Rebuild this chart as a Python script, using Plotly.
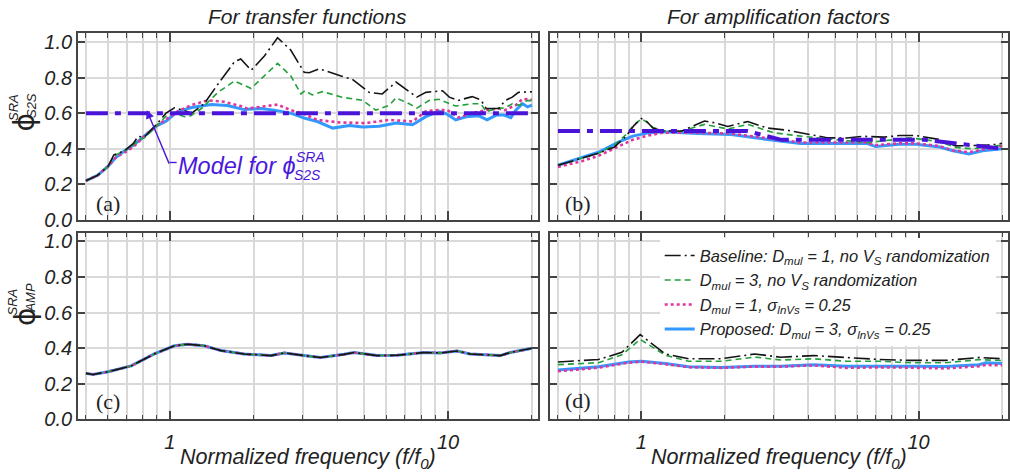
import math
import plotly.graph_objects as go

W, H = 1010, 475

# ---------------- data ----------------
# Panel (a): transfer functions, phi_S2S
fa_base = [0.5, 0.55, 0.6, 0.63, 0.69, 0.74, 0.77, 0.81, 0.9, 0.97, 1.04, 1.1, 1.2, 1.33, 1.49, 1.71, 1.8, 1.96, 2.18, 2.44, 2.72, 3.04, 3.17, 3.45, 4.15, 4.53, 5.2, 5.8, 6.5, 7.05, 7.72, 8.32, 9.55, 10.1, 10.9, 12.2, 13.1, 13.7, 15.2, 16.0, 17.0, 17.9, 20.0]
ya_base = [0.22, 0.25, 0.30, 0.365, 0.39, 0.43, 0.47, 0.465, 0.54, 0.60, 0.63, 0.62, 0.60, 0.653, 0.763, 0.89, 0.905, 0.841, 0.918, 1.024, 0.955, 0.83, 0.827, 0.849, 0.808, 0.79, 0.717, 0.708, 0.775, 0.735, 0.69, 0.717, 0.726, 0.69, 0.672, 0.693, 0.675, 0.626, 0.626, 0.67, 0.69, 0.717, 0.72]

fa_d3 = [0.5, 0.55, 0.6, 0.63, 0.69, 0.74, 0.77, 0.81, 0.9, 0.98, 1.04, 1.13, 1.19, 1.30, 1.49, 1.71, 1.96, 2.18, 2.44, 2.72, 2.96, 3.06, 3.25, 3.54, 4.15, 4.93, 5.5, 6.14, 6.5, 7.25, 7.72, 8.56, 9.27, 10.65, 12.2, 13.1, 13.7, 14.9, 16.0, 17.0, 18.0, 19.3, 20.0]
ya_d3 = [0.22, 0.25, 0.30, 0.36, 0.39, 0.42, 0.45, 0.46, 0.53, 0.59, 0.60, 0.58, 0.585, 0.626, 0.717, 0.781, 0.739, 0.808, 0.88, 0.81, 0.708, 0.726, 0.703, 0.721, 0.69, 0.672, 0.617, 0.644, 0.686, 0.653, 0.628, 0.672, 0.678, 0.64, 0.653, 0.653, 0.608, 0.626, 0.63, 0.653, 0.645, 0.672, 0.67]

fa_sig = [0.5, 0.55, 0.6, 0.64, 0.69, 0.74, 0.81, 0.9, 0.98, 1.07, 1.19, 1.37, 1.57, 1.80, 1.9, 2.18, 2.44, 2.72, 3.06, 3.39, 4.07, 5.06, 6.14, 7.45, 8.32, 9.27, 9.94, 10.9, 12.2, 13.7, 15.2, 16.0, 17.5, 18.5, 20.0]
ya_sig = [0.22, 0.25, 0.30, 0.35, 0.38, 0.41, 0.47, 0.53, 0.57, 0.611, 0.644, 0.672, 0.664, 0.64, 0.626, 0.64, 0.648, 0.617, 0.593, 0.562, 0.548, 0.544, 0.562, 0.553, 0.611, 0.617, 0.617, 0.575, 0.60, 0.617, 0.626, 0.617, 0.645, 0.68, 0.675]

fa_prop = [0.5, 0.55, 0.6, 0.64, 0.69, 0.74, 0.81, 0.9, 0.97, 1.04, 1.1, 1.2, 1.3, 1.41, 1.61, 1.85, 2.12, 2.37, 2.72, 3.06, 3.39, 3.85, 4.42, 4.93, 5.66, 6.5, 7.45, 8.32, 9.27, 9.94, 10.65, 11.6, 12.9, 13.8, 14.9, 15.9, 16.8, 17.5, 18.5, 19.3, 20.0]
ya_prop = [0.22, 0.25, 0.30, 0.35, 0.39, 0.42, 0.47, 0.53, 0.555, 0.595, 0.615, 0.632, 0.64, 0.648, 0.643, 0.62, 0.626, 0.617, 0.60, 0.571, 0.553, 0.516, 0.531, 0.522, 0.527, 0.544, 0.535, 0.58, 0.611, 0.593, 0.562, 0.58, 0.585, 0.562, 0.589, 0.589, 0.575, 0.617, 0.653, 0.635, 0.645]

fa_model = [0.5, 20.0]
ya_model = [0.6, 0.6]

# Panel (b): amplification factors, phi_S2S
fb_base = [0.5, 0.61, 0.70, 0.8, 0.88, 0.94, 1.0, 1.05, 1.1, 1.2, 1.4, 1.55, 1.69, 1.85, 2.05, 2.42, 2.85, 3.36, 4.0, 4.67, 5.5, 6.33, 7.5, 8.53, 9.8, 11.9, 13.6, 15.6, 17.5, 18.9, 20.0]
yb_base = [0.307, 0.345, 0.375, 0.41, 0.47, 0.53, 0.57, 0.55, 0.516, 0.50, 0.50, 0.53, 0.556, 0.545, 0.525, 0.553, 0.516, 0.504, 0.48, 0.462, 0.46, 0.47, 0.465, 0.474, 0.474, 0.452, 0.416, 0.416, 0.42, 0.425, 0.43]

fb_d3 = [0.5, 0.61, 0.7, 0.8, 0.88, 0.94, 1.0, 1.05, 1.1, 1.2, 1.4, 1.69, 2.05, 2.42, 3.0, 3.8, 5.0, 6.5, 8.0, 9.2, 11.9, 13.6, 15.6, 18.0, 20.0]
yb_d3 = [0.307, 0.345, 0.375, 0.42, 0.48, 0.535, 0.567, 0.55, 0.52, 0.50, 0.50, 0.537, 0.511, 0.537, 0.49, 0.47, 0.45, 0.434, 0.45, 0.462, 0.44, 0.407, 0.40, 0.41, 0.42]

fb_sig = [0.5, 0.61, 0.7, 0.83, 0.93, 1.06, 1.2, 1.6, 2.1, 3.0, 3.75, 5.0, 6.5, 7.0, 8.5, 9.8, 11.9, 13.3, 15.2, 17.0, 19.6, 20.0]
yb_sig = [0.298, 0.33, 0.36, 0.415, 0.45, 0.475, 0.49, 0.49, 0.485, 0.455, 0.435, 0.435, 0.435, 0.42, 0.43, 0.43, 0.415, 0.39, 0.38, 0.395, 0.41, 0.42]

fb_prop = [0.5, 0.61, 0.70, 0.83, 0.93, 1.06, 1.2, 1.6, 2.11, 2.85, 3.75, 4.94, 6.5, 7.0, 8.5, 9.8, 11.9, 13.3, 15.2, 17.0, 19.6, 20.0]
yb_prop = [0.307, 0.352, 0.38, 0.438, 0.471, 0.489, 0.495, 0.485, 0.48, 0.452, 0.43, 0.43, 0.43, 0.412, 0.425, 0.425, 0.41, 0.389, 0.37, 0.389, 0.398, 0.40]

fb_model = [0.5, 2.4, 3.2, 10.5, 20.0]
yb_model = [0.5, 0.5, 0.45, 0.45, 0.40]

# Panel (c): transfer functions, phi_AMP (all four cases nearly identical)
fc_all = [0.5, 0.53, 0.60, 0.727, 0.88, 1.04, 1.16, 1.33, 1.53, 1.85, 2.31, 2.58, 3.04, 3.48, 4.23, 4.59, 5.56, 6.56, 8.17, 9.36, 10.76, 12.0, 15.4, 16.7, 19.8, 20.0]
yc_base = [0.258, 0.252, 0.267, 0.30, 0.367, 0.413, 0.422, 0.413, 0.386, 0.367, 0.358, 0.373, 0.358, 0.347, 0.365, 0.375, 0.358, 0.36, 0.375, 0.373, 0.384, 0.367, 0.358, 0.375, 0.398, 0.398]
yc_d3 = list(yc_base)
yc_sig = list(yc_base)
yc_prop = list(yc_base)

# Panel (d): amplification factors, phi_AMP
fd_base = [0.5, 0.70, 0.85, 0.94, 0.99, 1.06, 1.22, 1.48, 1.94, 2.56, 3.18, 4.19, 5.51, 7.24, 9.53, 12.5, 16.5, 20.0]
yd_base = [0.322, 0.336, 0.376, 0.44, 0.476, 0.44, 0.367, 0.34, 0.34, 0.367, 0.349, 0.358, 0.345, 0.336, 0.331, 0.331, 0.347, 0.34]
fd_d3 = [0.5, 0.70, 0.85, 0.94, 0.99, 1.06, 1.22, 1.48, 1.94, 2.56, 3.18, 4.19, 5.51, 7.24, 9.53, 12.5, 16.5, 20.0]
yd_d3 = [0.307, 0.318, 0.362, 0.42, 0.449, 0.42, 0.36, 0.326, 0.326, 0.35, 0.333, 0.34, 0.326, 0.326, 0.318, 0.318, 0.335, 0.33]
fd_sig = [0.5, 0.70, 0.9, 1.0, 1.22, 1.48, 1.94, 2.56, 3.18, 4.19, 5.51, 7.24, 9.53, 12.5, 16.5, 17.5, 20.0]
yd_sig = [0.27, 0.29, 0.318, 0.324, 0.31, 0.293, 0.289, 0.296, 0.296, 0.303, 0.289, 0.292, 0.29, 0.286, 0.298, 0.305, 0.304]
fd_prop = [0.5, 0.70, 0.9, 1.0, 1.22, 1.48, 1.94, 2.56, 3.18, 4.19, 5.51, 7.24, 9.53, 12.5, 16.5, 17.5, 20.0]
yd_prop = [0.277, 0.295, 0.322, 0.326, 0.313, 0.295, 0.291, 0.298, 0.298, 0.307, 0.298, 0.30, 0.298, 0.297, 0.307, 0.318, 0.313]

legend_names = [
    "Baseline: D<sub>mul</sub> = 1, no V<sub>S</sub> randomization",
    "D<sub>mul</sub> = 3, no V<sub>S</sub> randomization",
    "D<sub>mul</sub> = 1, σ<sub>lnVs</sub> = 0.25",
    "Proposed: D<sub>mul</sub> = 3, σ<sub>lnVs</sub> = 0.25",
]
minor_freqs = [0.5, 0.6, 0.7, 0.8, 0.9, 2, 3, 4, 5, 6, 7, 8, 9, 20]
major_freqs = [1, 10]
arrow_target = (0.827, 0.617)   # where the model label arrow points (f, phi)

# ---------------- styles ----------------
STY = {
    "base": dict(color="#151515", width=1.6, dash="16px,4px,2px,4px"),
    "d3": dict(color="#23a03c", width=1.6, dash="6px,4px"),
    "sig": dict(color="#e0359c", width=2.6, dash="dot"),
    "prop": dict(color="#3399ff", width=3),
}
MODEL = dict(color="#4a14d8", width=4, dash="22px,7px,6px,7px")
VIOLET = "#4a18dc"
AX = "#444444"
GRID = "#d9d9d9"

fig = go.Figure()

panels = [
    ("x", "y", fa_base, ya_base, fa_d3, ya_d3, fa_sig, ya_sig, fa_prop, ya_prop),
    ("x2", "y2", fb_base, yb_base, fb_d3, yb_d3, fb_sig, yb_sig, fb_prop, yb_prop),
    ("x3", "y3", fc_all, yc_base, fc_all, yc_d3, fc_all, yc_sig, fc_all, yc_prop),
    ("x4", "y4", fd_base, yd_base, fd_d3, yd_d3, fd_sig, yd_sig, fd_prop, yd_prop),
]
for i, (xa, ya, fb, yb, f3, y3, fs, ys, fp, yp) in enumerate(panels):
    show = (i == 3)
    fig.add_trace(go.Scatter(x=fp, y=yp, mode="lines", line=STY["prop"], name=legend_names[3],
                             legendrank=4, showlegend=show, xaxis=xa, yaxis=ya))
    fig.add_trace(go.Scatter(x=fs, y=ys, mode="lines", line=STY["sig"], name=legend_names[2],
                             legendrank=3, showlegend=show, xaxis=xa, yaxis=ya))
    fig.add_trace(go.Scatter(x=f3, y=y3, mode="lines", line=STY["d3"], name=legend_names[1],
                             legendrank=2, showlegend=show, xaxis=xa, yaxis=ya))
    fig.add_trace(go.Scatter(x=fb, y=yb, mode="lines", line=STY["base"], name=legend_names[0],
                             legendrank=1, showlegend=show, xaxis=xa, yaxis=ya))

fig.add_trace(go.Scatter(x=fa_model, y=ya_model, mode="lines", line=MODEL, showlegend=False,
                         xaxis="x", yaxis="y"))
fig.add_trace(go.Scatter(x=fb_model, y=yb_model, mode="lines", line=MODEL, showlegend=False,
                         xaxis="x2", yaxis="y2"))

SANS = "Liberation Sans, Arial, sans-serif"
TICKFONT = dict(family=SANS, size=20, color="#222", style="italic")

XL = [78 / W, 539 / W]
XR = [551 / W, 1.0]
YT = [1 - 224 / H, 1 - 32 / H]
YB = [1 - 429 / H, 1 - 237 / H]


def xax(domain, anchor, labels):
    return dict(domain=domain, anchor=anchor, type="log", range=[-0.33, 1.3226],
                tickmode="array", tickvals=major_freqs, ticktext=[str(v) for v in major_freqs],
                showticklabels=labels, tickfont=TICKFONT, ticklabelstandoff=4,
                ticks="inside", ticklen=9, tickwidth=1.5, tickcolor=AX,
                showline=True, linecolor=AX, linewidth=1.5, mirror="ticks",
                showgrid=True, gridcolor=GRID, gridwidth=1.5, zeroline=False,
                minor=dict(tickmode="array", tickvals=minor_freqs, ticks="inside", ticklen=5,
                           tickwidth=1.2, tickcolor=AX, showgrid=True, gridcolor=GRID, gridwidth=1.5))


def yax(domain, anchor, labels):
    return dict(domain=domain, anchor=anchor, range=[0, 1.05], tick0=0, dtick=0.2,
                tickformat=".1f", showticklabels=labels, tickfont=TICKFONT,
                ticks="inside", ticklen=7, tickwidth=1.5, tickcolor=AX,
                showline=True, linecolor=AX, linewidth=1.5, mirror="ticks",
                showgrid=True, gridcolor=GRID, gridwidth=1.5, zeroline=False)


fig.update_layout(
    width=W, height=H, margin=dict(l=0, r=0, t=0, b=0),
    paper_bgcolor="white", plot_bgcolor="white",
    xaxis=xax(XL, "y", False), yaxis=yax(YT, "x", True),
    xaxis2=xax(XR, "y2", False), yaxis2=yax(YT, "x2", False),
    xaxis3=xax(XL, "y3", True), yaxis3=yax(YB, "x3", True),
    xaxis4=xax(XR, "y4", True), yaxis4=yax(YB, "x4", False),
    legend=dict(x=661 / W, y=1 - 243 / H, xanchor="left", yanchor="top",
                bgcolor="white", borderwidth=0, tracegroupgap=0,
                font=dict(family=SANS, size=16.5, color="#222", style="italic")),
)


def px(xp):
    return xp / W


def py(yp):
    return 1 - yp / H


ann = []


def text(x, y, s, size, color="#222", angle=0, xanchor="center", italic=True, family=SANS):
    ann.append(dict(x=px(x), y=py(y), xref="paper", yref="paper", text=s, showarrow=False,
                    xanchor=xanchor, yanchor="middle", textangle=angle,
                    font=dict(family=family, size=size, color=color,
                              style="italic" if italic else "normal")))


# titles
text(308.5, 15, "For transfer functions", 21)
text(780.5, 15, "For amplification factors", 21)
# x titles
text(308.5, 469, "Normalized frequency (f/f<sub>0</sub>)", 21.5)
text(780.5, 469, "Normalized frequency (f/f<sub>0</sub>)", 21.5)
# y titles (stacked super/subscripts)
text(25, 124, "ϕ", 28, angle=-90, italic=False, family="DejaVu Sans, sans-serif")
text(13, 108, "SRA", 13, angle=-90)
text(31, 106, "S2S", 13, angle=-90)
text(25, 324, "ϕ", 28, angle=-90, italic=False, family="DejaVu Sans, sans-serif")
text(13, 308, "SRA", 13, angle=-90)
text(31, 304, "AMP", 13, angle=-90)
# panel letters
SERIF = "Liberation Serif, Times New Roman, serif"
text(108, 207, "(a)", 22, italic=False, family=SERIF)
text(579, 207, "(b)", 22, italic=False, family=SERIF)
text(108, 411, "(c)", 22, italic=False, family=SERIF)
text(579, 410, "(d)", 22, italic=False, family=SERIF)
# model label
text(176, 169, "Model for ϕ", 23.5, color=VIOLET, xanchor="left")
text(295, 159, "SRA", 14, color=VIOLET, xanchor="left")
text(293, 178, "S2S", 14, color=VIOLET, xanchor="left")
# arrow (log axis: annotation x given in log10 units)
ann.append(dict(x=math.log10(arrow_target[0]), y=arrow_target[1], xref="x", yref="y", text="",
                showarrow=True, axref="pixel", ayref="pixel", ax=23, ay=55,
                arrowhead=2, arrowsize=1.2, arrowwidth=1.4, arrowcolor=VIOLET))
fig.update_layout(annotations=ann,
                  shapes=[dict(type="line", xref="paper", yref="paper",
                               x0=px(170), y0=py(165), x1=px(177), y1=py(165),
                               line=dict(color=VIOLET, width=1.4))])

fig.write_html("out.html")
